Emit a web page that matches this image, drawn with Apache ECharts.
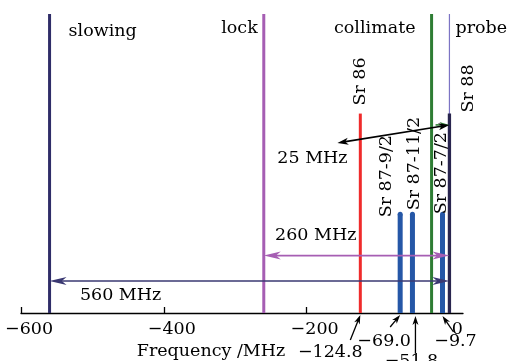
<!DOCTYPE html>
<html><head><meta charset="utf-8">
<script src="https://cdn.jsdelivr.net/npm/echarts@6/dist/echarts.min.js"></script>
<style>html,body{margin:0;padding:0;background:#fff}#c{width:510px;height:361px}</style>
</head><body><div id="c"></div>
<script>
// ---- data ----
const laserNames = ['slowing', 'lock', 'collimate', 'probe'];
const laserFreq = [-560, -260, -25, 0];
const laserLevel = [1, 1, 1, 1];

const isotopeNames = ['Sr 86', 'Sr 87-9/2', 'Sr 87-11/2', 'Sr 87-7/2', 'Sr 88'];
const isotopeFreq = [-124.8, -69.0, -51.8, -9.7, 0];
const isotopeLevel = [0.667, 0.33, 0.33, 0.33, 0.667];

const spanLabels = ['560 MHz', '260 MHz', '25 MHz'];
const spanFrom = [-560, -260, -25];
const spanTo = [0, 0, 0];

const xTicks = [-600, -400, -200, 0];

// ---- styles / layout (pixels) ----
const FONT = 'DejaVu Serif';
const FS = 17.5;
const laserStyle = [
  { color: '#2f2d68', width: 3, dx: 19, dy: 17, align: 'left' },
  { color: '#a65eb3', width: 3, dx: -6, dy: 14, align: 'right' },
  { color: '#2e7d34', width: 3, dx: -16, dy: 14, align: 'right' },
  { color: '#7c74c4', width: 1.2, dx: 6, dy: 14, align: 'left' }
];
const isoStyle = [
  { color: '#ef2b2b', width: 3, cap: false, lab: [0, -8], tail: [-10, 27], tip: [0, 2], txt: [-30, 39] },
  { color: '#2557a7', width: 5, cap: true, lab: [-14, 3], tail: [-10, 14], tip: [0, 2], txt: [-16, 28] },
  { color: '#2557a7', width: 5, cap: true, lab: [2.5, -4], tail: [3, 40], tip: [3, 3], txt: [-1, 48] },
  { color: '#2557a7', width: 5, cap: true, lab: [-1.5, 0], tail: [11, 19], tip: [0, 3], txt: [13, 28] },
  { color: '#29254f', width: 3.3, cap: false, lab: [19, -1], tail: null }
];
const spanStyle = [
  { color: '#3a3872', level: 0.107, txt: [71, 14] },
  { color: '#a65eb3', level: 0.192, txt: [52, -20] },
  { color: '#2e7d34', level: 0.629, lead: [-112, 18], txt: [-25, 16] }
];

function fmt(v) {
  return (v < 0 ? '\u2212' : '') + Math.abs(v);
}
function fmt1(v) {
  return (v < 0 ? '\u2212' : '') + Math.abs(v).toFixed(1);
}
function head(tip, ux, uy, len, hw, color) {
  const bx = tip[0] - ux * len, by = tip[1] - uy * len;
  const nx = -uy, ny = ux;
  const notch = [tip[0] - ux * len * 0.72, tip[1] - uy * len * 0.72];
  return {
    type: 'polygon',
    shape: { points: [tip, [bx + nx * hw, by + ny * hw], notch, [bx - nx * hw, by - ny * hw]] },
    style: { fill: color }
  };
}
function arrowLine(p0, p1, color, w, len, hw, both) {
  const dx = p1[0] - p0[0], dy = p1[1] - p0[1];
  const L = Math.hypot(dx, dy), ux = dx / L, uy = dy / L;
  const a = both ? [p0[0] + ux * len * 0.6, p0[1] + uy * len * 0.6] : p0;
  const b = [p1[0] - ux * len * 0.6, p1[1] - uy * len * 0.6];
  const els = [{ type: 'line', shape: { x1: a[0], y1: a[1], x2: b[0], y2: b[1] }, style: { stroke: color, lineWidth: w } },
    head(p1, ux, uy, len, hw, color)];
  if (both) els.push(head(p0, -ux, -uy, len, hw, color));
  return els;
}
function txt(x, y, text, align, rot) {
  return {
    type: 'text', x: x, y: y, rotation: rot || 0,
    style: { text: text, align: align || 'center', verticalAlign: 'middle', fontFamily: FONT, fontSize: FS, fill: '#000' }
  };
}

const chart = echarts.init(document.getElementById('c'), null, { renderer: 'canvas' });
chart.setOption({
  animation: false,
  backgroundColor: '#fff',
  grid: { left: 21, right: 47, top: 14, bottom: 48, containLabel: false, outerBoundsMode: 'none' },
  xAxis: {
    type: 'value', min: -600, max: 19,
    splitLine: { show: false },
    axisLine: { lineStyle: { color: '#000', width: 1.3 } },
    axisTick: { inside: true, length: 6, customValues: xTicks, lineStyle: { color: '#000', width: 1.3 } },
    axisLabel: { customValues: xTicks, formatter: fmt, color: '#000', fontFamily: FONT, fontSize: FS, margin: 7, padding: [0, 0, 0, 16] },
    name: 'Frequency /MHz', nameLocation: 'middle', nameGap: 27,
    nameTextStyle: { color: '#000', fontFamily: FONT, fontSize: FS, padding: [0, 62, 0, 0] }
  },
  yAxis: { type: 'value', min: 0, max: 1, show: false },
  series: [
    {
      type: 'custom', name: 'lasers',
      data: laserFreq.map((f, i) => [f, laserLevel[i], i]),
      encode: { x: 0, y: 1 },
      renderItem: function (params, api) {
        const i = api.value(2), st = laserStyle[i];
        const base = api.coord([api.value(0), 0]);
        const top = api.coord([api.value(0), api.value(1)]);
        return {
          type: 'group', children: [
            { type: 'line', shape: { x1: base[0], y1: base[1], x2: top[0], y2: top[1] }, style: { stroke: st.color, lineWidth: st.width } },
            txt(top[0] + st.dx, top[1] + st.dy, laserNames[i], st.align)
          ]
        };
      }
    },
    {
      type: 'custom', name: 'isotopes',
      data: isotopeFreq.map((f, i) => [f, isotopeLevel[i], i]),
      encode: { x: 0, y: 1 },
      renderItem: function (params, api) {
        const i = api.value(2), st = isoStyle[i];
        const base = api.coord([api.value(0), 0]);
        const top = api.coord([api.value(0), api.value(1)]);
        const ch = [
          { type: 'line', shape: { x1: base[0], y1: base[1], x2: top[0], y2: top[1] }, style: { stroke: st.color, lineWidth: st.width } }
        ];
        if (st.cap) ch.push({ type: 'circle', shape: { cx: top[0], cy: top[1], r: st.width / 2 }, style: { fill: st.color } });
        ch.push(txt(top[0] + st.lab[0], top[1] + st.lab[1], isotopeNames[i], 'left', Math.PI / 2));
        if (st.tail) {
          const tip = [base[0] + st.tip[0], base[1] + st.tip[1]];
          const tail = [base[0] + st.tail[0], base[1] + st.tail[1]];
          arrowLine(tail, tip, '#000', 1.3, 9, 3, false).forEach(e => ch.push(e));
          ch.push(txt(base[0] + st.txt[0], base[1] + st.txt[1], fmt1(api.value(0)), 'center'));
        }
        return { type: 'group', children: ch };
      }
    },
    {
      type: 'custom', name: 'spans',
      data: spanFrom.map((f, i) => [f, spanTo[i], i]),
      encode: { x: [0, 1] },
      renderItem: function (params, api) {
        const i = api.value(2), st = spanStyle[i];
        const p0 = api.coord([api.value(0), st.level]);
        const p1 = api.coord([api.value(1), st.level]);
        let ch = [];
        if (!st.lead) {
          ch = arrowLine(p0, p1, st.color, 1.6, 17, 4, true);
          ch.push(txt(p0[0] + st.txt[0], p0[1] + st.txt[1], spanLabels[i], 'center'));
        } else {
          ch = arrowLine([p0[0] + 4, p0[1]], p1, st.color, 1.6, 10, 3, false);
          const ls = [p1[0] + st.lead[0], p1[1] + st.lead[1]];
          arrowLine(ls, p1, '#000', 1.6, 11, 3.5, true).forEach(e => ch.push(e));
          ch.push(txt(ls[0] + st.txt[0], ls[1] + st.txt[1], spanLabels[i], 'center'));
        }
        return { type: 'group', children: ch };
      }
    }
  ]
});
</script>
</body></html>
